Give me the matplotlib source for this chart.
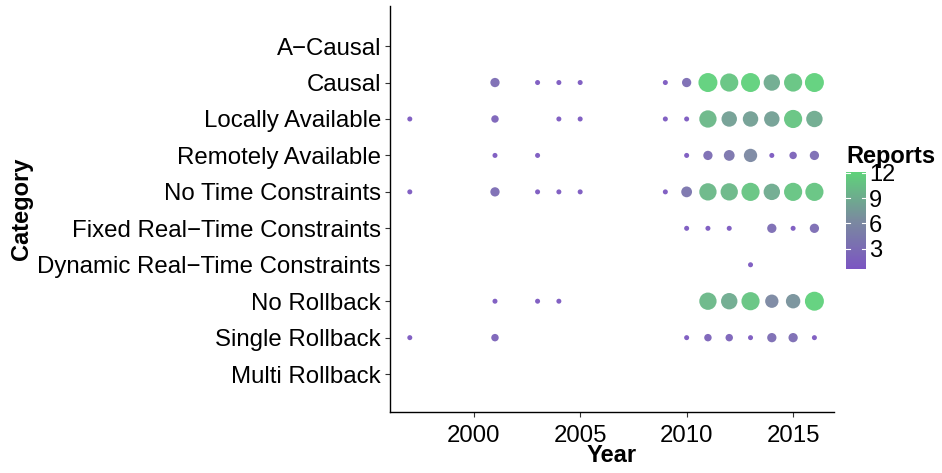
import numpy as np
import matplotlib.pyplot as plt
from matplotlib.colors import LinearSegmentedColormap, Normalize

plt.rcParams['font.family'] = ['Liberation Sans', 'DejaVu Sans']

# categories, top to bottom
categories = ['A\u2212Causal', 'Causal', 'Locally Available', 'Remotely Available',
              'No Time Constraints', 'Fixed Real\u2212Time Constraints',
              'Dynamic Real\u2212Time Constraints', 'No Rollback',
              'Single Rollback', 'Multi Rollback']

# reports per year for each category
causal_years = [2001, 2003, 2004, 2005, 2009, 2010, 2011, 2012, 2013, 2014, 2015, 2016]
causal_vals = [3, 1, 1, 1, 1, 3, 12, 11, 12, 9, 11, 12]

local_years = [1997, 2001, 2004, 2005, 2009, 2010, 2011, 2012, 2013, 2014, 2015, 2016]
local_vals = [1, 2, 1, 1, 1, 1, 10, 8, 8, 8, 11, 9]

remote_years = [2001, 2003, 2010, 2011, 2012, 2013, 2014, 2015, 2016]
remote_vals = [1, 1, 1, 3, 4, 6, 1, 2, 3]

notime_years = [1997, 2001, 2003, 2004, 2005, 2009, 2010, 2011, 2012, 2013, 2014, 2015, 2016]
notime_vals = [1, 3, 1, 1, 1, 1, 4, 10, 10, 11, 9, 11, 11]

fixed_years = [2010, 2011, 2012, 2014, 2015, 2016]
fixed_vals = [1, 1, 1, 3, 1, 3]

dynamic_years = [2013]
dynamic_vals = [1]

norollback_years = [2001, 2003, 2004, 2011, 2012, 2013, 2014, 2015, 2016]
norollback_vals = [1, 1, 1, 10, 9, 11, 6, 7, 12]

single_years = [1997, 2001, 2010, 2011, 2012, 2013, 2014, 2015, 2016]
single_vals = [1, 2, 1, 2, 2, 1, 3, 3, 1]

series = {
    'Causal': (causal_years, causal_vals),
    'Locally Available': (local_years, local_vals),
    'Remotely Available': (remote_years, remote_vals),
    'No Time Constraints': (notime_years, notime_vals),
    'Fixed Real\u2212Time Constraints': (fixed_years, fixed_vals),
    'Dynamic Real\u2212Time Constraints': (dynamic_years, dynamic_vals),
    'No Rollback': (norollback_years, norollback_vals),
    'Single Rollback': (single_years, single_vals),
}

cmap = LinearSegmentedColormap.from_list('rep', ['#7b55c2', '#7a8a9f', '#5fd27a'])
norm = Normalize(vmin=0.6, vmax=12.1)

fig = plt.figure(figsize=(9.42, 4.73), dpi=100)
ax = fig.add_axes([390 / 942, 1 - 412 / 473, 444 / 942, 406 / 473])

ypos = {c: len(categories) - 1 - i for i, c in enumerate(categories)}
for cat, (yrs, vals) in series.items():
    vals = np.array(vals)
    sizes = 13 + (vals - 1) * 15.8
    ax.scatter(yrs, [ypos[cat]] * len(yrs), s=sizes, c=vals, cmap=cmap, norm=norm,
               edgecolors='none', alpha=0.95, zorder=3)

ax.set_xlim(1996.07, 2016.92)
ax.set_ylim(-1.04, 10.1)
ax.set_xticks([2000, 2005, 2010, 2015])
ax.set_yticks([ypos[c] for c in categories])
ax.set_yticklabels(categories)
ax.tick_params(axis='both', labelsize=17.3, length=3.5, width=0.8, color='#333333', pad=3)
ax.tick_params(axis='x', pad=6)
for s in ['top', 'right']:
    ax.spines[s].set_visible(False)
for s in ['left', 'bottom']:
    ax.spines[s].set_linewidth(1.0)
ax.set_xlabel('Year', fontsize=17, fontweight='bold', labelpad=-2)
ax.set_ylabel('Category', fontsize=17, fontweight='bold', labelpad=3)

# colour bar legend
cax = fig.add_axes([846 / 942, 1 - 269 / 473, 20 / 942, 97 / 473])
sm = plt.cm.ScalarMappable(cmap=cmap, norm=norm)
cb = fig.colorbar(sm, cax=cax, ticks=[3, 6, 9, 12])
cb.outline.set_visible(False)
cb.ax.tick_params(labelsize=17, length=0, pad=2)
for t in [3, 6, 9, 12]:
    cax.plot([0, 0.2], [t, t], color='white', lw=0.8, transform=cax.get_yaxis_transform())
    cax.plot([0.8, 1], [t, t], color='white', lw=0.8, transform=cax.get_yaxis_transform())
fig.text(846 / 942, 1 - 157 / 473, 'Reports', fontsize=17, fontweight='bold', va='center')

fig.savefig('out.png', dpi=100)
